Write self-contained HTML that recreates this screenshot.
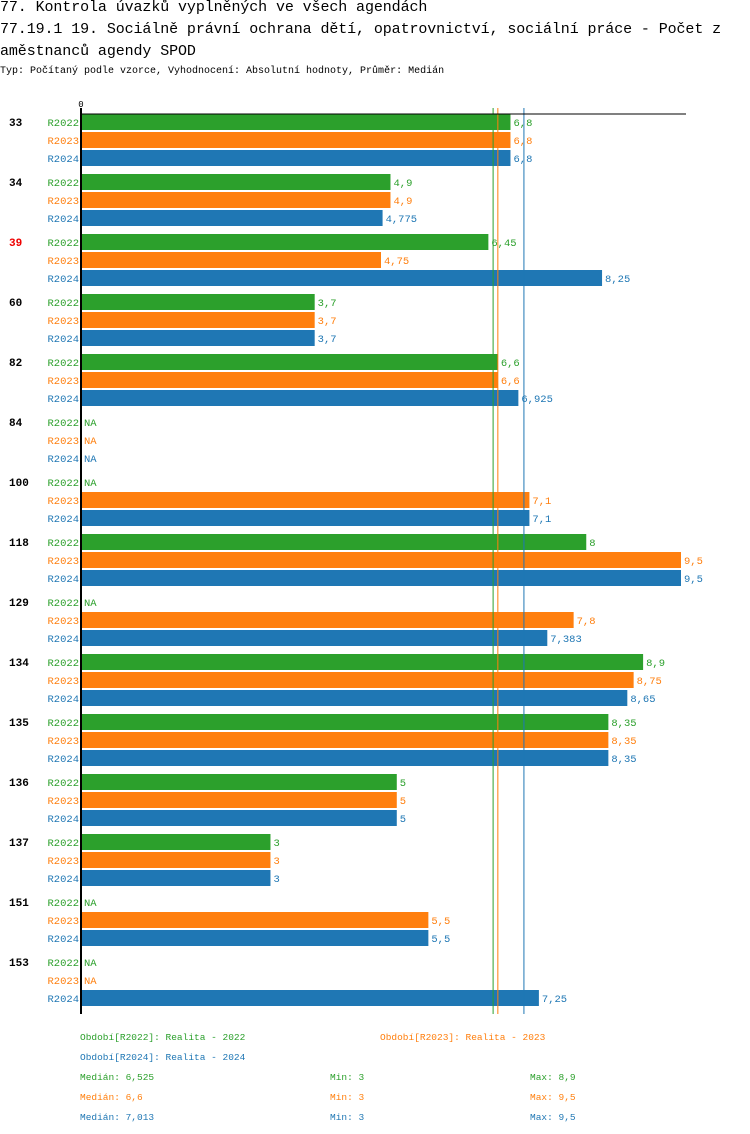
<!DOCTYPE html>
<html><head><meta charset="utf-8">
<style>
body{margin:0;background:#fff;width:750px;height:1134px;overflow:hidden;position:relative;font-family:"Liberation Mono",monospace}
.t{position:absolute;left:0;font-size:15px;white-space:nowrap;color:#000;letter-spacing:-0.1px}
.s{position:absolute;left:0;top:66px;font-size:10px;white-space:nowrap}
svg text{font-family:"Liberation Mono",monospace}
</style></head><body>
<div class="t" style="top:-1px">77. Kontrola úvazků vyplněných ve všech agendách</div>
<div class="t" style="top:21px">77.19.1 19. Sociálně právní ochrana dětí, opatrovnictví, sociální práce - Počet z</div>
<div class="t" style="top:43px">aměstnanců agendy SPOD</div>
<div class="s">Typ: Počítaný podle vzorce, Vyhodnocení: Absolutní hodnoty, Průměr: Medián</div>
<svg id="c" width="750" height="1134" style="position:absolute;left:0;top:0"></svg>
<script>
const categories=["33","34","39","60","82","84","100","118","129","134","135","136","137","151","153"];
const highlighted=["39"];
const seriesNames=["R2022","R2023","R2024"];
const r2022=[6.8,4.9,6.45,3.7,6.6,null,null,8,null,8.9,8.35,5,3,null,null];
const r2023=[6.8,4.9,4.75,3.7,6.6,null,7.1,9.5,7.8,8.75,8.35,5,3,5.5,null];
const r2024=[6.8,4.775,8.25,3.7,6.925,null,7.1,9.5,7.383,8.65,8.35,5,3,5.5,7.25];
const medians=[6.525,6.6,7.013];
const mins=[3,3,3];
const maxs=[8.9,9.5,9.5];
const colors=["#2ca02c","#ff7f0e","#1f77b4"];
const svg=document.getElementById('c');
const NS="http://www.w3.org/2000/svg";
const x0=81, xmax=9.5, xw=600;
function xs(v){return x0+v/xmax*xw;}
function yrow(g,s){return 122+g*60+s*18;}
function fmt(v){return String(v).replace('.',',');}
function mk(tag,attrs,txt){const e=document.createElementNS(NS,tag);for(const k in attrs)e.setAttribute(k,attrs[k]);if(txt!==undefined)e.textContent=txt;svg.appendChild(e);return e;}
const series=[r2022,r2023,r2024];
categories.forEach((c,g)=>{
  const t=mk('text',{x:9,y:yrow(g,0)+4,'font-size':11,'font-weight':'bold',fill:highlighted.includes(c)?'#e00':'#000'},c);
  
  
  series.forEach((arr,s)=>{
    const y=yrow(g,s);
    const l=mk('text',{x:79,y:y+4,'font-size':10.5,'text-anchor':'end',fill:colors[s]},seriesNames[s]);
    
    
    const v=arr[g];
    if(v==null){
      const n=mk('text',{x:84,y:y+4,'font-size':10.5,fill:colors[s]},'NA');
      
      
    }else{
      const b=mk('rect',{x:x0,y:y-8,width:xs(v)-x0,height:16,fill:colors[s]});
      
      
      const vl=mk('text',{x:xs(v)+3,y:y+4,'font-size':10.5,fill:colors[s]},fmt(v));
      
      
    }
  });
});
medians.forEach((m,i)=>{
  const ln=mk('line',{x1:xs(m),x2:xs(m),y1:108,y2:1014,stroke:colors[i],'stroke-width':1});
  
  
});
const ax=mk('line',{x1:x0,x2:686,y1:114,y2:114,stroke:'#000','stroke-width':1});


const ay=mk('line',{x1:x0,x2:x0,y1:108,y2:1014,stroke:'#000','stroke-width':2});


const z=mk('text',{x:x0,y:107,'font-size':9,'text-anchor':'middle'},'0');


const leg=[["Období[R2022]: Realita - 2022",80,1040,0],["Období[R2023]: Realita - 2023",380,1040,1],["Období[R2024]: Realita - 2024",80,1060,2]];
leg.forEach(([txt,x,y,i])=>{
  const e=mk('text',{x:x,y:y,'font-size':9.5,fill:colors[i]},txt);
  
  
});
medians.forEach((m,i)=>{
  const y=1080+i*20;
  const a=mk('text',{x:80,y:y,'font-size':9.5,fill:colors[i]},'Medián: '+fmt(m));
  
  
  const b=mk('text',{x:330,y:y,'font-size':9.5,fill:colors[i]},'Min: '+fmt(mins[i]));
  
  
  const d=mk('text',{x:530,y:y,'font-size':9.5,fill:colors[i]},'Max: '+fmt(maxs[i]));
  
  
});
</script>
</body></html>
